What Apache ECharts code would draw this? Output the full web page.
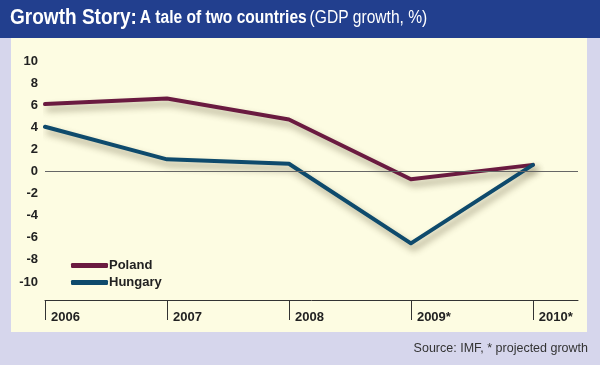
<!DOCTYPE html>
<html>
<head>
<meta charset="utf-8">
<script src="https://cdn.jsdelivr.net/npm/echarts@6/dist/echarts.min.js"></script>
<style>
html,body{margin:0;padding:0;background:#d6d6ec;}
#chart{width:600px;height:365px;}
</style>
</head>
<body>
<div id="chart"></div>
<script>
const years = ['2006', '2007', '2008', '2009*', '2010*'];
const poland = [6.1, 6.6, 4.7, -0.7, 0.6];
const hungary = [4.05, 1.1, 0.7, -6.5, 0.6];
const yTicks = [-10, -8, -6, -4, -2, 0, 2, 4, 6, 8, 10];

const idx = years.map((_, i) => i);
const toPairs = arr => arr.map((v, i) => [i, v]);

const chart = echarts.init(document.getElementById('chart'), null, {renderer: 'canvas'});
const font = 'Liberation Sans, Arial, Helvetica, sans-serif';
const shadow = {shadowColor: 'rgba(60,50,20,0.45)', shadowBlur: 7, shadowOffsetX: 3, shadowOffsetY: 5};

chart.setOption({
  backgroundColor: '#d6d6ec',
  animation: false,
  graphic: [
    {type: 'rect', shape: {x: 0, y: 0, width: 600, height: 38}, style: {fill: '#223f8e'}, z: 0, silent: true},
    {type: 'rect', shape: {x: 11, y: 38, width: 576, height: 294}, style: {fill: '#fdfce2'}, z: 0, silent: true},
    {type: 'text', x: 10, y: 7, scaleX: 0.865, scaleY: 1, z: 10, style: {
      text: '{a|Growth Story:} {b|A tale of two countries} {c|(GDP growth, %)}',
      rich: {
        a: {fontFamily: font, fontWeight: 'bold', fontSize: 22, fill: '#ffffff'},
        b: {fontFamily: font, fontWeight: 'bold', fontSize: 18, fill: '#ffffff'},
        c: {fontFamily: font, fontWeight: 'normal', fontSize: 18, fill: '#ffffff'}
      }
    }},
    {type: 'text', right: 12, top: 342, z: 10, style: {
      text: 'Source: IMF, * projected growth', fontFamily: font, fontSize: 12.5, fill: '#333333'
    }}
  ],
  grid: {left: 45, right: 22, top: 61, bottom: 83, containLabel: false},
  legend: {
    orient: 'vertical', left: 66, top: 254, itemGap: 4,
    itemWidth: 37, itemHeight: 5,
    data: [{name: 'Poland', icon: 'roundRect'}, {name: 'Hungary', icon: 'roundRect'}],
    textStyle: {fontFamily: font, fontWeight: 'bold', fontSize: 13, color: '#222', padding: [0, 0, 0, -4]}
  },
  xAxis: {
    type: 'value', min: 0, max: 4.37, interval: 1, offset: 18,
    axisLine: {show: true, onZero: false, lineStyle: {color: '#333', width: 1}},
    axisTick: {show: true, length: 20, customValues: idx, lineStyle: {color: '#333', width: 1}},
    splitLine: {show: false},
    axisLabel: {
      customValues: idx, align: 'left', margin: 11, padding: [0, 0, 0, 6],
      fontFamily: font, fontWeight: 'bold', fontSize: 13, color: '#222',
      formatter: v => years[Math.round(v)]
    }
  },
  yAxis: {
    type: 'value', min: -10, max: 10, interval: 2,
    axisLine: {show: false}, axisTick: {show: false}, splitLine: {show: false},
    axisLabel: {
      margin: 7, fontFamily: font, fontWeight: 'bold', fontSize: 13, color: '#222',
      customValues: yTicks
    }
  },
  series: [
    {
      name: 'Poland', type: 'line', data: toPairs(poland), symbol: 'none',
      color: '#6a1a40',
      lineStyle: Object.assign({width: 4, color: '#6a1a40', cap: 'round', join: 'round'}, shadow),
      markLine: {
        silent: true, symbol: 'none', label: {show: false},
        lineStyle: {color: '#666', width: 1, type: 'solid', shadowBlur: 0},
        data: [{yAxis: 0}]
      },
      z: 3
    },
    {
      name: 'Hungary', type: 'line', data: toPairs(hungary), symbol: 'none',
      color: '#0e4a6c',
      lineStyle: Object.assign({width: 4, color: '#0e4a6c', cap: 'round', join: 'round'}, shadow),
      z: 4
    }
  ]
});
</script>
</body>
</html>
